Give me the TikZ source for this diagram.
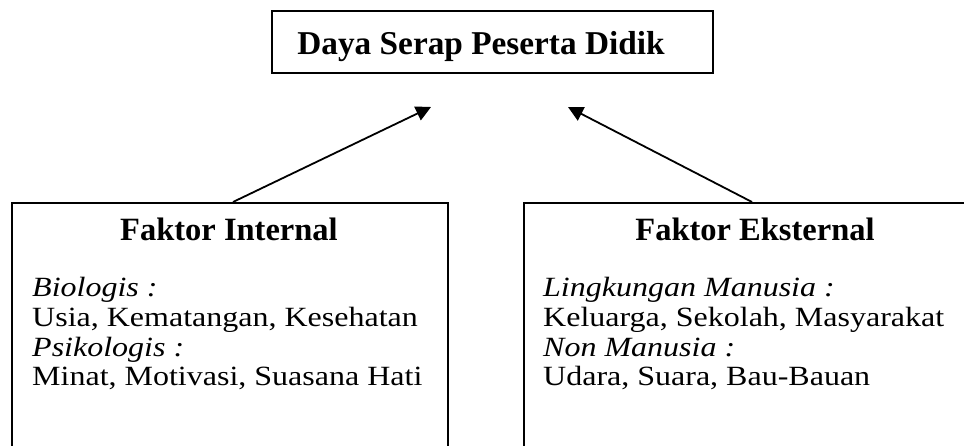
\documentclass[tikz,border=0pt]{standalone}
\usepackage{graphicx}
\usepackage{fontspec}
\setmainfont{Liberation Serif}
\usetikzlibrary{arrows.meta}

% text of the two boxes, a little flattened as in the original
\newcommand{\isibaris}[1]{\scalebox{1}[0.87]{\begin{tabular}[t]{@{}l@{}}#1\end{tabular}}}

\tikzset{
  kotak/.style={draw, line width=1.8pt, inner sep=0pt},
  judul/.style={font=\fontsize{33.3}{38}\selectfont\bfseries, inner sep=0pt},
  subjudul/.style={font=\fontsize{32.5}{36}\selectfont\bfseries, inner sep=0pt},
  isi/.style={font=\fontsize{32}{34}\selectfont, inner sep=0pt},
  panah/.style={line width=1.8pt, -{Triangle[length=15pt,width=15pt]}}
}

\begin{document}
\begin{tikzpicture}[x=1pt, y=-1pt]
        \useasboundingbox (0,0) rectangle (964,446);
        \clip (0,0) rectangle (964,446);

        % Top box
        \node[kotak, minimum width=441pt, minimum height=62pt, anchor=north west] (daya) at (271,10) {};
        \node[judul, anchor=base] (dayatext) at (481,55) {Daya Serap Peserta Didik};

        % Factor boxes (open at the bottom)
        \node[kotak, minimum width=436pt, minimum height=280pt, anchor=north west] (internal) at (11,202) {};
        \node[kotak, minimum width=464pt, minimum height=280pt, anchor=north west] (eksternal) at (523,202) {};

        % Headings
        \node[subjudul, anchor=base] (internaltitle) at (229,241) {Faktor Internal};
        \node[subjudul, anchor=base] (eksternaltitle) at (755,241) {Faktor Eksternal};

        % Contents
        \node[isi, anchor=base west] (internaltext) at (32,297)
          {\isibaris{\textit{Biologis :}\\ Usia, Kematangan, Kesehatan\\ \textit{Psikologis :}\\ Minat, Motivasi, Suasana Hati}};
        \node[isi, anchor=base west] (eksternaltext) at (543,297)
          {\isibaris{\textit{Lingkungan Manusia :}\\ Keluarga, Sekolah, Masyarakat\\ \textit{Non Manusia :}\\ Udara, Suara, Bau-Bauan}};

        % Arrows
        \coordinate (tipL) at (431,107);
        \coordinate (tipR) at (568,107);
        \draw[panah] ([xshift=222pt]internal.north west) -- (tipL);
        \draw[panah] ([xshift=229pt]eksternal.north west) -- (tipR);
\end{tikzpicture}
\end{document}
